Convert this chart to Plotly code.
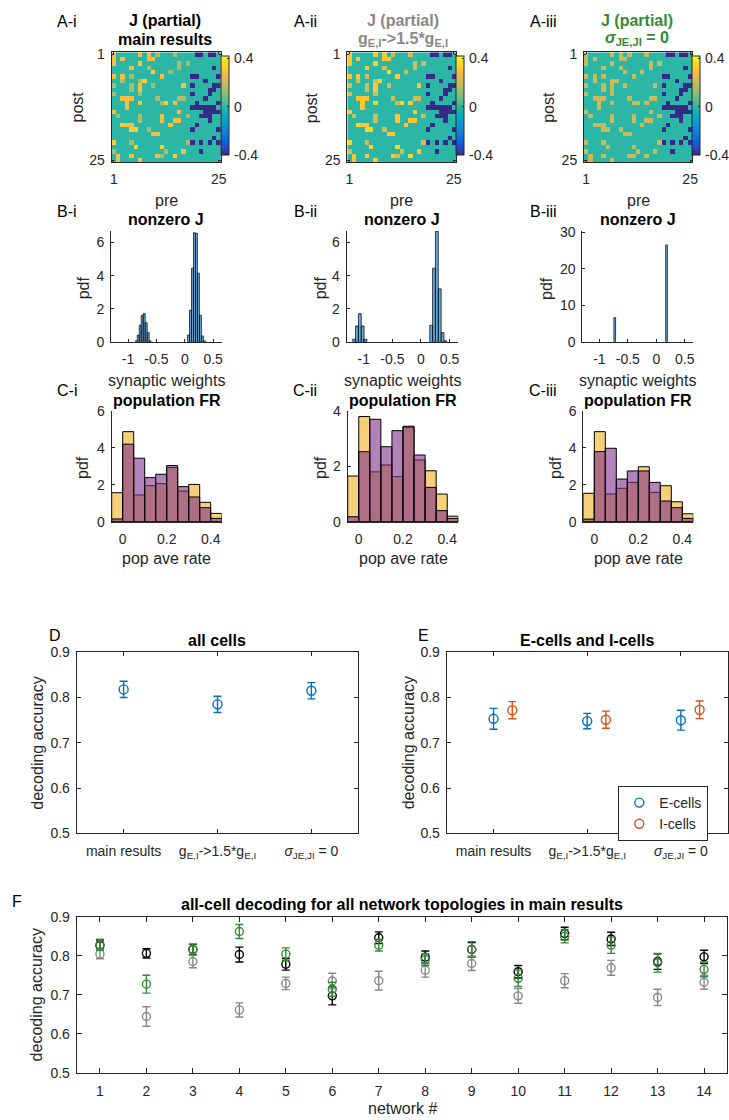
import plotly.graph_objects as go

W, H = 729, 1120
FONT = "Liberation Sans, Arial, Helvetica, sans-serif"
TXT = "#262626"
BLUE = "#0072BD"
ORANGE = "#D95319"
GRAY = "#888888"
GREEN = "#348a34"
YELLOW_FILL = "rgba(237,177,32,0.6)"
PURPLE_FILL = "rgba(126,47,142,0.6)"
HIST_BLUE = "rgba(0,114,189,0.6)"

# ---------------- DATA ----------------
# Panel A: partial J (25 x 25), sparse rows: "<col><level>"
J_topology = [
    "0y 6y 8y 10g 14g 19b 20b 22b 23b",
    "0y 2y 8y 9y",
    "0y 6y 15g 17g",
    "4y 8g 15g 23b",
    "9o 13g",
    "0y 2y 4g 11y 18b 19b 24b",
    "2g 6g 7o 21b",
    "0g 4g 6y 9g 16y 18b 23b 24b",
    "4g 6y 22b 23b",
    "0g 6g 18b 22b",
    "2y 3y 4y 10g 15g 16g 21b",
    "3y 6o 11g 12o 14y 19b 24b",
    "3y 18b 19b 20b 21b 22b 23b",
    "0y 15y 21b 22b 23b 24b",
    "1g 6g 11y 17g 20b 21b 22b",
    "6g 11y 14y 15y 22b",
    "2o 3y 4y 13y 19b",
    "4o 5o 8g 18b 24b",
    "9y 10y",
    "23b",
    "0o 4g 17g 18b 20b 22b 24b",
    "5o 11o",
    "0g 12g 16y 20b",
    "1y 4y 10y 11g 14o",
    "1y 6y",
]
J_levels_main = {"g": 0.15, "y": 0.28, "o": 0.33, "b": -0.40}
J_levels_gEI = {"g": 0.22, "y": 0.31, "o": 0.35, "b": -0.40}
J_levels_sigma = {"g": 0.20, "y": 0.20, "o": 0.20, "b": -0.40}
J_clim = [-0.40, 0.422]
J_tickvals = [-0.4, 0, 0.4]
J_ticktext = ["-0.4", "0", "0.4"]
J_axis_ticks = [1, 25]

# Panel B: histograms of nonzero J (pdf)
Bi_centers = [-0.855, -0.82, -0.785, -0.75, -0.715, -0.68, -0.645, -0.61,
              0.065, 0.10, 0.135, 0.17, 0.205, 0.24, 0.275, 0.31, 0.345]
Bi_pdf = [0.05, 0.4, 1.0, 1.6, 1.7, 1.15, 0.55, 0.05,
          0.4, 1.9, 4.45, 6.6, 6.55, 4.15, 1.6, 0.35, 0.05]
Bi_width = 0.035
Bii_centers = [-1.17, -1.12, -1.07, -1.02, -0.97,
               0.18, 0.23, 0.28, 0.33, 0.38, 0.43]
Bii_pdf = [0.15, 0.95, 1.7, 0.95, 0.15,
           1.0, 4.45, 6.7, 3.2, 0.55, 0.05]
Bii_width = 0.05
Biii_centers = [-0.73, 0.18]
Biii_pdf = [6.6, 26.5]
Biii_width = 0.03
B_xticks = [-1, -0.5, 0, 0.5]
B_xticktext = ["-1", "-0.5", "0", "0.5"]

# Panel C: population firing-rate histograms
C_edges_left = [-0.05, 0.0, 0.05, 0.10, 0.15, 0.20, 0.25, 0.30, 0.35, 0.40]
C_width = 0.05
Ci_yellow = [1.57, 4.88, 1.45, 1.95, 2.06, 2.93, 1.66, 2.02, 1.05, 0.45]
Ci_purple = [0.15, 4.20, 3.44, 2.39, 2.57, 3.04, 1.90, 1.34, 0.76, 0.18]
Cii_yellow = [1.65, 3.80, 1.80, 2.05, 1.63, 3.45, 2.23, 1.84, 1.00, 0.20]
Cii_purple = [0.18, 2.53, 3.70, 2.71, 3.29, 3.42, 2.41, 1.24, 0.40, 0.12]
Ciii_yellow = [1.54, 4.88, 1.50, 1.81, 2.13, 2.98, 1.59, 1.95, 1.08, 0.43]
Ciii_purple = [0.14, 3.80, 3.98, 2.31, 2.75, 2.75, 2.13, 1.12, 0.76, 0.18]

# Panel D / E: decoding accuracy per condition
conditions = ["main results",
              "g<sub>E,I</sub>->1.5*g<sub>E,I</sub>",
              "<i>σ</i><sub>JE,JI</sub> = 0"]
cond_x = [1, 2, 3]
D_mean = [0.818, 0.785, 0.815]
D_err = [0.018, 0.018, 0.018]
E_offset_I = 0.2
E_mean = [0.753, 0.748, 0.750]
E_err = [0.023, 0.017, 0.022]
I_mean = [0.772, 0.751, 0.773]
I_err = [0.019, 0.019, 0.0195]

# Panel F: all-cell decoding per network
networks = list(range(1, 15))
F_main = [0.826, 0.806, 0.816, 0.803, 0.778, 0.697, 0.846, 0.796, 0.816, 0.759, 0.857, 0.843, 0.785, 0.797]
F_main_err = [0.012, 0.012, 0.013, 0.019, 0.015, 0.023, 0.015, 0.016, 0.018, 0.016, 0.016, 0.017, 0.020, 0.017]
F_gEI = [0.804, 0.644, 0.785, 0.661, 0.729, 0.735, 0.736, 0.763, 0.780, 0.697, 0.736, 0.769, 0.693, 0.732]
F_gEI_err = [0.012, 0.025, 0.016, 0.018, 0.016, 0.020, 0.024, 0.018, 0.018, 0.019, 0.018, 0.019, 0.021, 0.018]
F_sigma = [0.828, 0.727, 0.816, 0.862, 0.804, 0.714, 0.827, 0.790, 0.816, 0.742, 0.850, 0.827, 0.782, 0.765]
F_sigma_err = [0.014, 0.023, 0.014, 0.018, 0.016, 0.018, 0.015, 0.015, 0.020, 0.021, 0.017, 0.021, 0.024, 0.019]
acc_ticks = [0.5, 0.6, 0.7, 0.8, 0.9]

# parula colormap
PARULA_RGB = [
    (0.2081, 0.1663, 0.5292), (0.2081, 0.2386, 0.6771), (0.1253, 0.3242, 0.8303),
    (0.0060, 0.4086, 0.8828), (0.0498, 0.4586, 0.8641), (0.0779, 0.5040, 0.8384),
    (0.0641, 0.5570, 0.8240), (0.0265, 0.6137, 0.8135), (0.0228, 0.6535, 0.7768),
    (0.0590, 0.6838, 0.7254), (0.1453, 0.7098, 0.6646), (0.2586, 0.7317, 0.5954),
    (0.3953, 0.7459, 0.5244), (0.5300, 0.7491, 0.4661), (0.6473, 0.7456, 0.4188),
    (0.7525, 0.7384, 0.3768), (0.8507, 0.7299, 0.3360), (0.9450, 0.7261, 0.2886),
    (0.9990, 0.7653, 0.2164), (0.9789, 0.8271, 0.1633), (0.9589, 0.8949, 0.1132),
    (0.9763, 0.9831, 0.0538)]
PARULA = [[i / (len(PARULA_RGB) - 1),
           "rgb(%d,%d,%d)" % tuple(round(255 * c) for c in rgb)]
          for i, rgb in enumerate(PARULA_RGB)]


def fx(p):
    return p / W


def fy(p):
    return 1 - p / H


def build_J(levels):
    Z = [[0.0] * 25 for _ in range(25)]
    for r, row in enumerate(J_topology):
        for tok in row.split():
            Z[r][int(tok[:-1])] = levels[tok[-1]]
    return Z


fig = go.Figure()
layout = {}
anns = []


def ann(text, x, y, size=16, bold=False, color=TXT, angle=0, xanchor="center"):
    t = "<b>%s</b>" % text if bold else text
    anns.append(dict(text=t, x=fx(x), y=fy(y), xref="paper", yref="paper", showarrow=False,
                     xanchor=xanchor, yanchor="middle", textangle=angle,
                     font=dict(family=FONT, size=size, color=color)))


# axis boxes in pixel coords: (x0, x1, y0, y1)
boxes = {
    1: (111.7, 221.0, 52.3, 162.3),
    2: (347.3, 456.0, 52.3, 162.3),
    3: (584.0, 692.3, 52.3, 162.3),
    4: (111.0, 221.7, 231.0, 341.7),
    5: (346.7, 458.0, 231.0, 341.7),
    6: (582.3, 693.3, 231.0, 341.7),
    7: (111.7, 221.7, 411.0, 521.7),
    8: (347.7, 458.3, 411.0, 521.7),
    9: (583.3, 693.3, 411.0, 521.7),
    10: (76.7, 358.3, 652.3, 833.3),
    11: (446.7, 727.7, 652.3, 833.3),
    12: (76.7, 727.3, 916.7, 1072.7),
}
tickfont = dict(family=FONT, size=14, color=TXT)


def axes(i, xkw, ykw, box=True, ticklen=4):
    x0, x1, y0, y1 = boxes[i]
    sfx = "" if i == 1 else str(i)
    common = dict(showline=True, linecolor=TXT, linewidth=1, ticks="inside",
                  ticklen=ticklen, tickcolor=TXT, tickwidth=1, showgrid=False,
                  zeroline=False, tickfont=tickfont, mirror="ticks" if box else False,
                  fixedrange=True, automargin=False)
    xa = dict(common, domain=[fx(x0), fx(x1)], anchor="y" + sfx, ticklabelstandoff=4)
    xa.update(xkw)
    ya = dict(common, domain=[fy(y1), fy(y0)], anchor="x" + sfx, ticklabelstandoff=3)
    ya.update(ykw)
    layout["xaxis" + sfx] = xa
    layout["yaxis" + sfx] = ya
    return "x" + sfx, "y" + sfx


# ---- A heatmaps ----
CB_TOP, CB_BOT, CB_W = 55.7, 155.0, 7.5
heat_sets = [(1, J_levels_main, 221.0), (2, J_levels_gEI, 456.0), (3, J_levels_sigma, 692.3)]
for k, (i, lev, cbx) in enumerate(heat_sets):
    xr, yr = axes(i, dict(range=[0.5, 25.5], tickvals=J_axis_ticks),
                  dict(range=[25.5, 0.5], tickvals=J_axis_ticks), box=True, ticklen=2)
    ca = "coloraxis" if k == 0 else "coloraxis%d" % (k + 1)
    fig.add_trace(go.Heatmap(z=build_J(lev), x=list(range(1, 26)), y=list(range(1, 26)),
                             coloraxis=ca, xaxis=xr, yaxis=yr, hoverinfo="skip"))
    layout[ca] = dict(
        cmin=J_clim[0], cmax=J_clim[1], colorscale=PARULA,
        colorbar=dict(x=fx(cbx), xanchor="left", y=fy((CB_TOP + CB_BOT) / 2), yanchor="middle",
                      len=(CB_BOT - CB_TOP) / H, lenmode="fraction", thickness=CB_W,
                      thicknessmode="pixels", outlinecolor=TXT, outlinewidth=1,
                      xpad=0, ypad=0, tickvals=J_tickvals, showticklabels=False,
                      ticks="inside", ticklen=2, tickcolor=TXT))
    # colorbar tick labels as text
    for v, t in zip(J_tickvals, J_ticktext):
        ypx = CB_BOT - (v - J_clim[0]) / (J_clim[1] - J_clim[0]) * (CB_BOT - CB_TOP)
        ann(t, cbx + CB_W + 3.5, ypx, size=14, xanchor="left")

# ---- B histograms ----
B_sets = [(4, Bi_centers, Bi_pdf, Bi_width, [0, 6.7], [0, 2, 4, 6]),
          (5, Bii_centers, Bii_pdf, Bii_width, [0, 6.7], [0, 2, 4, 6]),
          (6, Biii_centers, Biii_pdf, Biii_width, [0, 30.3], [0, 10, 20, 30])]
for i, cen, pdf, wd, yrng, yt in B_sets:
    xr, yr = axes(i, dict(range=[-1.3, 0.65], tickvals=B_xticks, ticktext=B_xticktext),
                  dict(range=yrng, tickvals=yt), box=False, ticklen=3)
    fig.add_trace(go.Bar(x=cen, y=pdf, width=[wd] * len(cen), xaxis=xr, yaxis=yr,
                         marker=dict(color=HIST_BLUE, line=dict(color="black", width=0.7)),
                         showlegend=False, hoverinfo="skip"))

# ---- C histograms ----
C_centers = [e + C_width / 2 for e in C_edges_left]
C_sets = [(7, Ci_yellow, Ci_purple, [0, 6], [0, 2, 4, 6]),
          (8, Cii_yellow, Cii_purple, [0, 4], [0, 2, 4]),
          (9, Ciii_yellow, Ciii_purple, [0, 6], [0, 2, 4, 6])]
for i, yel, pur, yrng, yt in C_sets:
    xr, yr = axes(i, dict(range=[-0.05, 0.45], tickvals=[0, 0.2, 0.4], ticktext=["0", "0.2", "0.4"]),
                  dict(range=yrng, tickvals=yt), box=False, ticklen=3)
    for vals, col in ((yel, YELLOW_FILL), (pur, PURPLE_FILL)):
        fig.add_trace(go.Bar(x=C_centers, y=vals, width=[C_width] * len(vals), xaxis=xr, yaxis=yr,
                             marker=dict(color=col, line=dict(color="black", width=1)),
                             showlegend=False, hoverinfo="skip"))

# ---- D ----
acc_y = dict(range=[0.5, 0.9], tickvals=acc_ticks, tickformat=".1f")
xr, yr = axes(10, dict(range=[0.5, 3.5], tickvals=cond_x, ticktext=conditions, ticklabelstandoff=5),
              acc_y, box=True, ticklen=4)


def errscatter(x, y, e, col, xr, yr, name=None, legend=False, size=9):
    return go.Scatter(x=x, y=y, xaxis=xr, yaxis=yr, mode="markers", name=name,
                      showlegend=legend,
                      marker=dict(symbol="circle-open", size=size, color=col, line=dict(width=1.4, color=col)),
                      error_y=dict(type="data", array=e, visible=True, color=col, thickness=1.4, width=4),
                      hoverinfo="skip")


fig.add_trace(errscatter(cond_x, D_mean, D_err, BLUE, xr, yr))

# ---- E ----
xr, yr = axes(11, dict(range=[0.5, 3.5], tickvals=cond_x, ticktext=conditions, ticklabelstandoff=5),
              acc_y, box=True, ticklen=4)
fig.add_trace(errscatter(cond_x, E_mean, E_err, BLUE, xr, yr, name="E-cells", legend=True))
fig.add_trace(errscatter([c + E_offset_I for c in cond_x], I_mean, I_err, ORANGE, xr, yr,
                         name="I-cells", legend=True))

# ---- F ----
xr, yr = axes(12, dict(range=[0.5, 14.5], tickvals=networks, ticklabelstandoff=5),
              acc_y, box=True, ticklen=5)
fig.add_trace(errscatter(networks, F_main, F_main_err, "black", xr, yr, size=8))
fig.add_trace(errscatter(networks, F_gEI, F_gEI_err, GRAY, xr, yr, size=8))
fig.add_trace(errscatter(networks, F_sigma, F_sigma_err, GREEN, xr, yr, size=8))

# ---- annotations ----
for t, x, y in [("A-i", 67, 21), ("A-ii", 305, 21), ("A-iii", 543, 21),
                ("B-i", 67, 211.7), ("B-ii", 305, 211.7), ("B-iii", 543, 211.7),
                ("C-i", 67, 390), ("C-ii", 305, 390), ("C-iii", 543, 390),
                ("D", 54.7, 635), ("E", 423.5, 635), ("F", 17, 901.7)]:
    ann(t, x, y, size=16, color="black")

# A titles
ann("J (partial)", 165, 20, bold=True, color="black")
ann("main results", 165, 40, bold=True, color="black")
ann("J (partial)", 403.3, 20, bold=True, color=GRAY)
ann("g<sub>E,I</sub>->1.5*g<sub>E,I</sub>", 403.3, 40, bold=True, color=GRAY)
ann("J (partial)", 636.7, 20, bold=True, color=GREEN)
ann("<i>σ</i><sub>JE,JI</sub> = 0", 636.7, 39, bold=True, color=GREEN)
for x in (166.3, 401.7, 638):
    ann("pre", x, 200)
for x in (77, 311.7, 548.3):
    ann("post", x, 107.5, angle=-90)

# B
for x in (166.3, 402.3, 637.8):
    ann("nonzero J", x, 220, bold=True, color="black")
    ann("synaptic weights", x, 380)
for x in (83, 320, 546.7):
    ann("pdf", x, 288.3, angle=-90)

# C
for x in (166.7, 403, 638.3):
    ann("population FR", x, 400, bold=True, color="black")
    ann("pop ave rate", x, 558)
for x in (82, 320, 555):
    ann("pdf", x, 468, angle=-90)

# D, E, F
ann("all cells", 217.5, 640.7, bold=True, color="black")
ann("decoding accuracy", 36.7, 743, angle=-90)
ann("E-cells and I-cells", 587.2, 640.7, bold=True, color="black")
ann("decoding accuracy", 408.3, 743, angle=-90)
ann("all-cell decoding for all network topologies in main results", 402, 904.3, bold=True, color="black")
ann("decoding accuracy", 36.7, 994.7, angle=-90)
ann("network #", 402, 1108)

layout.update(dict(
    width=W, height=H, margin=dict(l=0, r=0, t=0, b=0, autoexpand=False),
    paper_bgcolor="white", plot_bgcolor="white", barmode="overlay", bargap=0,
    font=dict(family=FONT, size=14, color=TXT),
    annotations=anns,
    showlegend=True,
    legend=dict(x=fx(618.3), y=fy(786), xanchor="left", yanchor="top",
                bordercolor=TXT, borderwidth=1, bgcolor="white",
                font=dict(family=FONT, size=14, color=TXT), tracegroupgap=0,
                itemwidth=30),
))
fig.update_layout(layout)
fig.write_html("out.html",
               config={"displayModeBar": False, "staticPlot": True},
               post_script="document.body.style.margin='0';document.body.style.padding='0';")
